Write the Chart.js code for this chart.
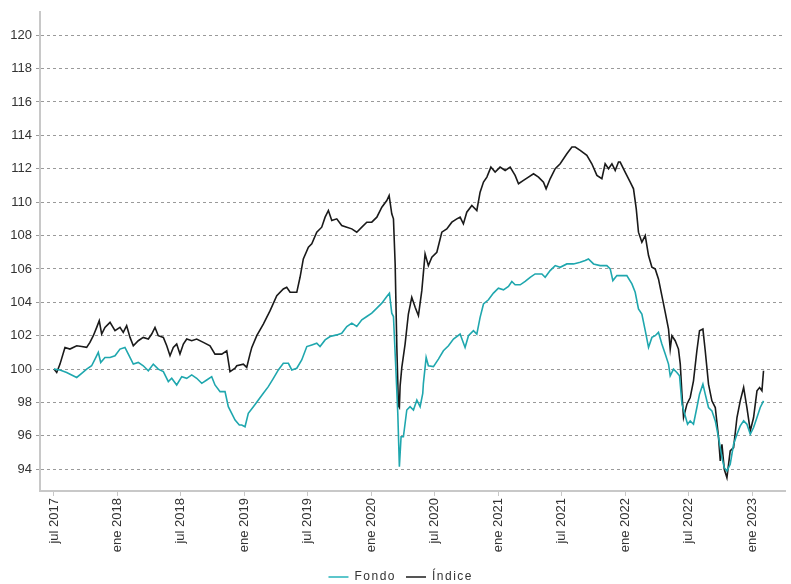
<!DOCTYPE html>
<html>
<head>
<meta charset="utf-8">
<script src="https://cdn.jsdelivr.net/npm/chart.js@4/dist/chart.umd.min.js"></script>
<style>
  html, body { margin: 0; padding: 0; background: #ffffff; }
  #wrap { width: 791px; height: 584px; position: relative; }
</style>
</head>
<body>
<div id="wrap"><canvas id="c" width="791" height="584"></canvas></div>
<script>
// Meses desde enero 2017 (6 = jul 2017, 12 = ene 2018, ...)
const fondoMeses = [6.00,6.57,7.20,7.67,8.15,8.62,9.09,9.56,9.88,10.19,10.42,10.82,11.30,11.77,12.24,12.71,13.03,13.50,13.97,14.44,14.92,15.39,15.86,16.34,16.81,17.13,17.60,18.08,18.55,19.02,19.49,19.97,20.44,20.91,21.22,21.70,22.17,22.48,22.80,23.12,23.52,23.75,24.06,24.37,24.85,25.32,25.79,26.26,26.74,27.21,27.68,28.16,28.48,28.95,29.42,29.90,30.37,30.84,31.15,31.63,32.10,32.73,33.20,33.68,34.15,34.62,35.10,35.57,36.04,36.52,36.99,37.46,37.71,37.93,38.09,38.31,38.50,38.65,38.81,39.03,39.35,39.66,39.98,40.30,40.61,40.86,40.92,41.18,41.39,41.87,42.34,42.81,43.29,43.76,44.39,44.86,45.18,45.65,45.97,46.28,46.60,47.07,47.54,48.01,48.49,48.96,49.28,49.59,50.07,50.54,51.01,51.48,52.12,52.43,52.90,53.38,53.85,54.48,55.11,55.74,56.21,56.52,57.00,57.63,58.26,58.58,58.83,59.21,59.68,60.15,60.63,60.94,61.25,61.57,61.89,62.20,62.52,62.83,63.14,63.46,63.78,64.09,64.25,64.56,64.88,65.13,65.36,65.58,65.89,66.14,66.45,66.77,67.02,67.34,67.56,67.87,68.19,68.51,68.82,69.14,69.36,69.61,69.92,70.24,70.56,70.87,71.19,71.50,71.82,72.13,72.45,72.76,73.07];
const fondoValores = [100.0,99.95,99.8,99.65,99.5,99.75,100.0,100.2,100.6,101.0,100.4,100.7,100.7,100.8,101.2,101.3,100.9,100.3,100.4,100.2,99.9,100.3,100.0,99.85,99.25,99.45,99.05,99.55,99.45,99.65,99.45,99.15,99.35,99.55,99.05,98.65,98.65,97.75,97.35,96.95,96.65,96.65,96.55,97.35,97.75,98.15,98.55,98.95,99.45,99.95,100.35,100.35,99.95,100.05,100.55,101.35,101.45,101.55,101.35,101.75,101.95,102.05,102.15,102.55,102.75,102.55,102.95,103.15,103.35,103.65,103.95,104.35,104.55,103.35,103.15,100.1,97.35,94.15,95.95,95.95,97.55,97.75,97.55,98.15,97.75,98.55,99.15,100.7,100.2,100.15,100.6,101.1,101.4,101.8,102.1,101.3,102.0,102.3,102.1,103.1,103.9,104.15,104.55,104.85,104.75,104.95,105.25,105.05,105.05,105.25,105.5,105.7,105.7,105.5,105.9,106.2,106.1,106.3,106.3,106.4,106.5,106.6,106.3,106.2,106.2,106.0,105.3,105.6,105.6,105.6,105.1,104.6,103.6,103.3,102.3,101.3,101.9,102.0,102.2,101.5,100.9,100.3,99.6,100.0,99.8,99.6,97.9,97.4,96.7,96.9,96.7,97.7,98.5,99.1,98.5,97.7,97.5,96.9,95.9,94.7,94.1,93.9,94.3,95.5,96.1,96.6,96.9,96.7,96.1,96.5,97.1,97.7,98.1];

const indiceMeses = [6.00,6.26,6.57,7.04,7.51,8.15,8.62,9.09,9.40,9.72,10.04,10.28,10.51,10.82,11.30,11.77,12.24,12.55,12.87,13.19,13.50,13.97,14.44,14.92,15.24,15.55,15.86,16.34,16.66,16.97,17.28,17.60,17.91,18.23,18.55,19.02,19.49,20.12,20.75,21.22,21.86,22.33,22.64,23.12,23.28,23.90,24.22,24.53,24.70,25.17,25.79,26.43,27.06,27.68,28.00,28.32,28.95,29.26,29.57,30.05,30.37,30.84,31.31,31.63,31.94,32.26,32.73,33.20,33.68,34.15,34.62,35.10,35.57,36.04,36.52,36.99,37.46,37.68,37.93,38.09,38.25,38.41,38.56,38.65,38.72,38.88,39.19,39.50,39.82,40.14,40.45,40.77,41.08,41.39,41.72,42.19,42.66,43.13,43.61,44.08,44.39,44.70,45.02,45.50,45.97,46.28,46.60,46.92,47.30,47.70,48.17,48.65,49.12,49.59,49.91,50.38,50.85,51.33,51.80,52.27,52.52,52.90,53.38,53.85,54.48,54.96,55.27,55.74,56.37,56.84,57.32,57.79,58.10,58.42,58.74,59.05,59.36,59.52,59.99,60.47,60.78,61.04,61.25,61.57,61.89,62.20,62.52,62.83,63.14,63.46,63.78,64.09,64.25,64.41,64.72,65.03,65.20,65.36,65.51,65.83,66.14,66.45,66.77,67.02,67.34,67.56,67.87,68.19,68.51,68.82,68.98,69.14,69.36,69.61,69.92,70.24,70.56,70.87,71.19,71.50,71.82,72.13,72.45,72.70,72.92,73.07];
const indiceValores = [100.0,99.8,100.3,101.3,101.2,101.4,101.35,101.3,101.6,102.0,102.5,102.9,102.1,102.5,102.8,102.3,102.5,102.2,102.6,101.9,101.4,101.7,101.9,101.8,102.1,102.5,102.0,101.9,101.4,100.8,101.3,101.5,100.9,101.5,101.8,101.7,101.8,101.6,101.4,100.9,100.9,101.1,99.85,100.05,100.2,100.3,100.1,100.9,101.3,102.0,102.7,103.5,104.4,104.8,104.9,104.6,104.6,105.5,106.6,107.3,107.5,108.2,108.5,109.1,109.5,108.9,109.0,108.6,108.5,108.4,108.2,108.5,108.8,108.8,109.1,109.7,110.1,110.4,109.3,109.0,106.3,101.3,97.8,97.7,99.0,100.1,101.5,103.3,104.3,103.7,103.2,104.7,106.9,106.2,106.7,107.0,108.2,108.4,108.8,109.0,109.1,108.7,109.4,109.8,109.5,110.6,111.2,111.5,112.1,111.8,112.1,111.9,112.1,111.6,111.1,111.3,111.5,111.7,111.5,111.2,110.8,111.4,112.0,112.3,112.9,113.3,113.3,113.1,112.8,112.3,111.6,111.4,112.3,112.0,112.3,111.9,112.4,112.4,111.8,111.2,110.8,109.6,108.2,107.6,108.0,106.8,106.1,106.0,105.4,104.4,103.4,102.4,101.2,102.0,101.7,101.2,100.3,98.5,97.1,97.9,98.3,99.3,101.1,102.3,102.4,101.1,99.1,98.1,97.7,95.9,94.5,95.5,94.0,93.5,95.1,95.3,97.1,98.1,98.9,97.7,96.3,97.1,98.7,98.9,98.7,99.9];

const xTickValores = [6,12,18,24,30,36,42,48,54,60,66,72];
const xTickEtiquetas = ['jul 2017','ene 2018','jul 2018','ene 2019','jul 2019','ene 2020','jul 2020','ene 2021','jul 2021','ene 2022','jul 2022','ene 2023'];
const yTickValores = [94,96,98,100,102,104,106,108,110,112,114,116,118,120];

const serieNombres = ['Fondo', 'Índice'];

function pares(xs, ys) { return xs.map((x, i) => ({ x: x, y: ys[i] })); }

const legendSpacing = {
  id: 'legendSpacing',
  afterLayout(chart) {
    const lg = chart.legend;
    if (!lg) return;
    lg.top += 9;
    lg.bottom += 9;
    if (lg._wrapped) return;
    const orig = lg.draw.bind(lg);
    lg.draw = function () {
      const ctx = chart.ctx;
      ctx.save();
      try { ctx.letterSpacing = '1.5px'; } catch (e) {}
      orig();
      ctx.restore();
    };
    lg._wrapped = true;
  }
};

new Chart(document.getElementById('c'), {
  type: 'line',
  data: {
    datasets: [
      {
        label: serieNombres[0],
        data: pares(fondoMeses, fondoValores),
        borderColor: '#1fa7ae',
        backgroundColor: '#5cc6cb',
        borderWidth: 1.6,
        pointRadius: 0,
        tension: 0
      },
      {
        label: serieNombres[1],
        data: pares(indiceMeses, indiceValores),
        borderColor: '#1a1a1a',
        backgroundColor: '#555555',
        borderWidth: 1.6,
        pointRadius: 0,
        tension: 0
      }
    ]
  },
  options: {
    responsive: false,
    animation: false,
    parsing: true,
    layout: { padding: { top: 10, right: 6, left: 0, bottom: 0 } },
    plugins: {
      tooltip: { enabled: false },
      legend: {
        position: 'bottom',
        labels: {
          boxWidth: 20,
          boxHeight: 2,
          padding: 10,
          color: '#333333',
          font: { family: 'Liberation Sans, Arial, sans-serif', size: 12 },
          generateLabels(chart) {
            const items = Chart.defaults.plugins.legend.labels.generateLabels(chart);
            items.forEach(it => { it.lineWidth = 0; it.strokeStyle = 'rgba(0,0,0,0)'; });
            return items;
          }
        }
      }
    },
    scales: {
      x: {
        type: 'linear',
        min: 4.68,
        max: 75.1,
        afterBuildTicks(scale) { scale.ticks = xTickValores.map(v => ({ value: v })); },
        afterFit(scale) { scale.height = 61; },
        ticks: {
          autoSkip: false,
          maxRotation: 90,
          minRotation: 90,
          padding: 2,
          color: '#333333',
          font: { family: 'Liberation Sans, Arial, sans-serif', size: 13 },
          callback(value) {
            const i = xTickValores.indexOf(value);
            return i >= 0 ? xTickEtiquetas[i] : '';
          }
        },
        grid: { display: true, drawOnChartArea: false, drawTicks: true, tickLength: 5, color: '#c8c8c8', lineWidth: 1 },
        border: { display: true, color: '#c8c8c8', width: 2 }
      },
      y: {
        type: 'linear',
        min: 92.7,
        max: 121.4,
        afterBuildTicks(scale) { scale.ticks = yTickValores.map(v => ({ value: v })); },
        afterFit(scale) { scale.width = 40; },
        ticks: {
          padding: 4,
          color: '#333333',
          font: { family: 'Liberation Sans, Arial, sans-serif', size: 13 }
        },
        grid: { color: '#9a9a9a', lineWidth: 1, tickLength: 4 },
        border: { display: true, color: '#c8c8c8', width: 2, dash: [3, 3] }
      }
    }
  },
  plugins: [legendSpacing]
});
</script>
</body>
</html>
